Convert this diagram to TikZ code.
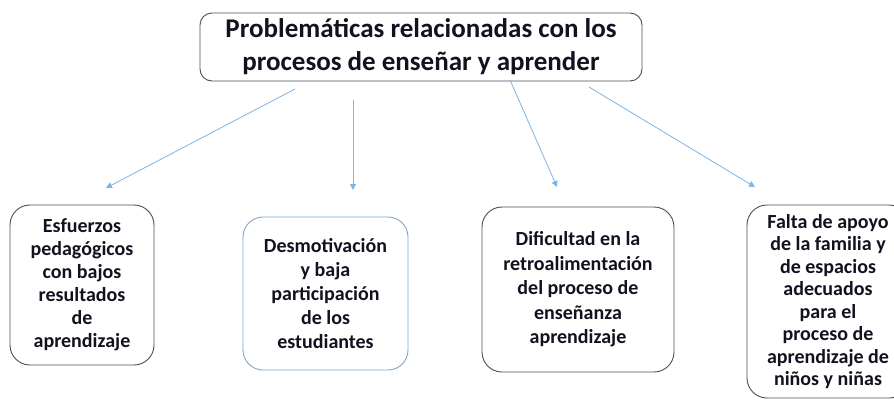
\documentclass[tikz,border=0pt]{standalone}
\usepackage{fontspec}
\setmainfont{Carlito}
\usetikzlibrary{arrows.meta}
\definecolor{txt}{HTML}{10131F}
\definecolor{edge}{HTML}{4A4D55}
\definecolor{blueedge}{HTML}{7FA3CC}
\definecolor{arr}{HTML}{7DB5E6}
\tikzset{
  topbox/.style={draw=edge, line width=0.9pt, rounded corners=12pt, align=center,
    font=\fontsize{27}{33}\selectfont\bfseries, text=txt, inner sep=0pt},
  childbox/.style={draw=edge, line width=0.9pt, rounded corners=20pt, align=center,
    font=\fontsize{20}{23}\selectfont\bfseries, text=txt, inner sep=0pt},
  link/.style={draw=arr, line width=0.8pt, -{Triangle[length=6pt,width=6pt]}},
}
\begin{document}
\begin{tikzpicture}[x=1pt,y=-1pt]
\useasboundingbox (0,0) rectangle (894,405);
\fill[white] (0,0) rectangle (894,405);
\begin{scope}
\clip (0,0) rectangle (894,405);
\node[topbox, minimum width=442pt, minimum height=68pt] (top) at (421,47)
  {Problemáticas relacionadas con los\\procesos de enseñar y aprender};
\node[childbox, minimum width=144pt, minimum height=160pt] (b1) at (82,285)
  {Esfuerzos\\pedagógicos\\con bajos\\resultados\\de\\aprendizaje};
\node[childbox, draw=blueedge, font=\fontsize{20}{24}\selectfont\bfseries, minimum width=165pt, minimum height=153pt] (b2) at (325.5,293.5)
  {Desmotivación\\y baja\\participación\\de los\\estudiantes};
\node[childbox, font=\fontsize{20}{24.5}\selectfont\bfseries, minimum width=192pt, minimum height=165pt] (b3) at (578,289.5)
  {Dificultad en la\\retroalimentación\\del proceso de\\enseñanza\\aprendizaje};
\node[childbox, font=\fontsize{20}{22.5}\selectfont\bfseries, minimum width=162pt, minimum height=193pt] (b4) at (828,301.5)
  {Falta de apoyo\\de la familia y\\de espacios\\adecuados\\para el\\proceso de\\aprendizaje de\\niños y niñas};
\end{scope}
\coordinate (s1) at (295,89);
\coordinate (e1) at (106,188);
\coordinate (s2) at (353,100);
\coordinate (e2) at (353,190);
\coordinate (s3) at (510,80);
\coordinate (e3) at (557,187);
\coordinate (s4) at (589,87);
\coordinate (e4) at (755,187);
\draw[link] (s1) -- (e1);
\draw[link] (s2) -- (e2);
\draw[link] (s3) -- (e3);
\draw[link] (s4) -- (e4);
\end{tikzpicture}
\end{document}
